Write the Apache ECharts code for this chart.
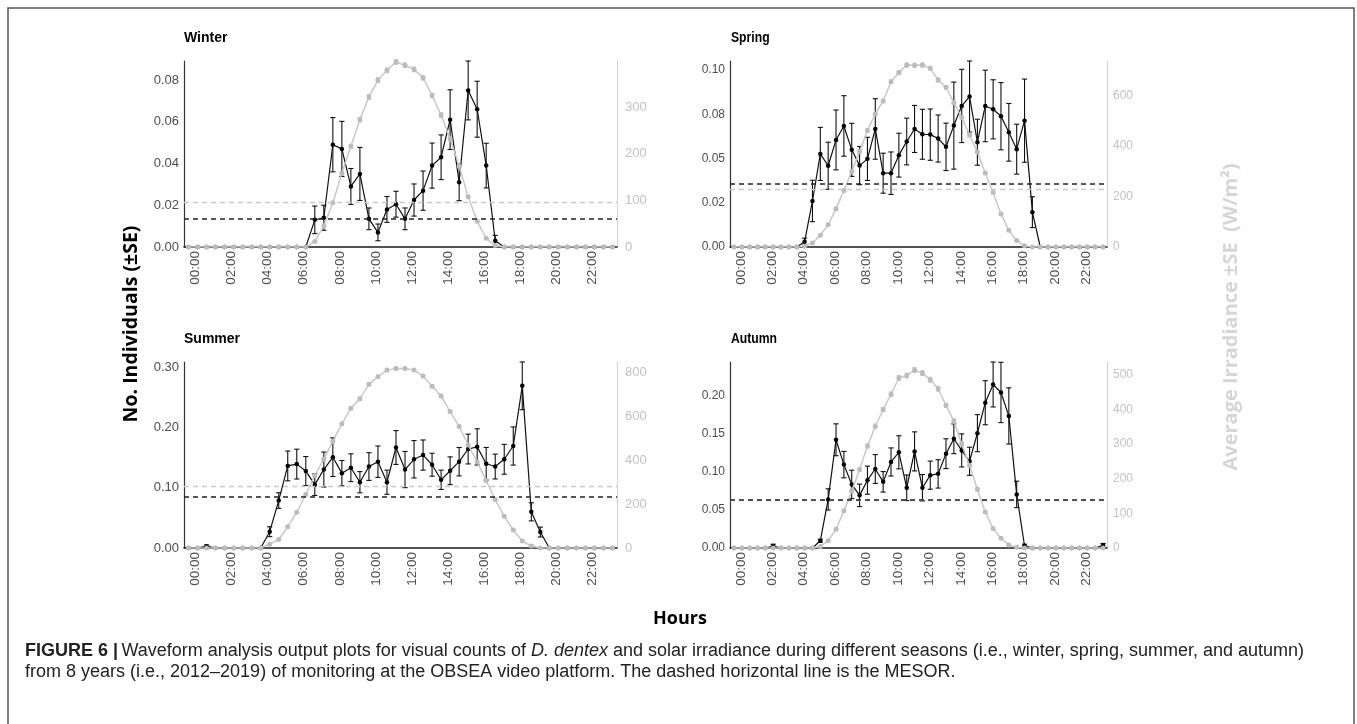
<!DOCTYPE html>
<html><head><meta charset="utf-8">
<script src="https://cdn.jsdelivr.net/npm/echarts@6/dist/echarts.min.js"></script>
<style>html,body{margin:0;padding:0;background:#fff}#c{width:1357px;height:724px}</style>
</head><body><div id="c"></div>
<script>
// ---------- DATA ----------
const timeBins = ["00:00","00:30","01:00","01:30","02:00","02:30","03:00","03:30","04:00","04:30","05:00","05:30",
  "06:00","06:30","07:00","07:30","08:00","08:30","09:00","09:30","10:00","10:30","11:00","11:30",
  "12:00","12:30","13:00","13:30","14:00","14:30","15:00","15:30","16:00","16:30","17:00","17:30",
  "18:00","18:30","19:00","19:30","20:00","20:30","21:00","21:30","22:00","22:30","23:00","23:30"];
const seasons = ["Winter","Spring","Summer","Autumn"];

const winterCount = [0,0,0,0,0,0,0,0,0,0,0,0,0,0,
  0.013,0.014,0.049,0.047,0.029,0.035,0.0135,0.007,0.018,0.0205,0.0135,0.0225,0.027,0.039,0.043,0.061,0.031,0.075,0.066,0.039,0.003,
  0,0,0,0,0,0,0,0,0,0,0,0,0];
const winterCountSE = [0,0,0,0,0,0,0,0,0,0,0,0,0,0,
  0.0066,0.006,0.013,0.0132,0.0086,0.0127,0.0052,0.004,0.0062,0.0062,0.0052,0.0077,0.0094,0.0108,0.0107,0.0143,0.0088,0.0141,0.0134,0.0107,0.0026,
  0,0,0,0,0,0,0,0,0,0,0,0,0];
const winterIrr = [0,0,0,0,0,0,0,0,0,0,0,0,0,0,
  12,45,95,158,216,273,322,358,379,397,390,381,363,325,283,232,174,108,55,19,3,
  0,0,0,0,0,0,0,0,0,0,0,0,0];
const winterIrrSE = [0,0,0,0,0,0,0,0,0,0,0,0,0,0,
  1,2,3,4,4,5,5,5,5,5,5,5,5,5,5,4,4,3,2,1,1,
  0,0,0,0,0,0,0,0,0,0,0,0,0];

const springCount = [0,0,0,0,0,0,0,0,0,
  0.003,0.026,0.0526,0.0459,0.0605,0.0684,0.0549,0.046,0.0498,0.0667,0.0417,0.0417,0.0519,0.0596,0.0667,0.0637,0.0635,0.0613,0.0566,0.0686,0.0797,0.085,0.0592,0.0797,0.0778,0.0739,0.0648,0.0553,0.0714,0.0197,
  0,0,0,0,0,0,0,0,0];
const springCountSE = [0,0,0,0,0,0,0,0,0,
  0.002,0.0117,0.015,0.0133,0.0169,0.0171,0.015,0.0108,0.0122,0.0171,0.0113,0.012,0.0124,0.0132,0.0133,0.0141,0.0145,0.0133,0.0134,0.0246,0.0207,0.0201,0.013,0.0202,0.0167,0.019,0.0163,0.0141,0.0235,0.0087,
  0,0,0,0,0,0,0,0,0];
const springIrr = [0,0,0,0,0,0,0,0,0,
  3,16,47,88,152,224,299,378,462,527,579,655,691,721,720,721,708,662,633,572,514,444,376,293,216,131,66,26,5,
  0,0,0,0,0,0,0,0,0,0];
const springIrrSE = [0,0,0,0,0,0,0,0,0,
  1,2,3,4,5,6,6,7,7,7,7,8,8,8,8,8,8,8,7,7,7,7,6,6,5,4,3,2,1,
  0,0,0,0,0,0,0,0,0,0];

const summerCount = [0,0,0.003,0,0,0,0,0,0,
  0.027,0.0786,0.136,0.139,0.1275,0.105,0.13,0.1505,0.124,0.133,0.109,0.135,0.143,0.109,0.1665,0.13,0.147,0.154,0.138,0.113,0.128,0.143,0.164,0.1676,0.1396,0.135,0.147,0.169,0.2687,0.0599,0.0264,
  0,0,0,0,0,0,0,0];
const summerCountSE = [0,0,0.002,0,0,0,0,0,0,
  0.0082,0.013,0.0247,0.0247,0.024,0.018,0.029,0.032,0.021,0.023,0.0176,0.023,0.026,0.02,0.028,0.03,0.031,0.025,0.019,0.016,0.023,0.0235,0.0247,0.03,0.027,0.0206,0.0247,0.0316,0.0395,0.015,0.0082,
  0,0,0,0,0,0,0,0];
const summerIrr = [0,0,0,0,0,0,0,0,0,
  17,39,97,163,244,331,405,487,566,637,681,746,781,811,818,818,811,784,738,693,622,554,470,392,307,221,145,82,32,9,
  0,0,0,0,0,0,0,0,0];
const summerIrrSE = [0,0,0,0,0,0,0,0,0,
  1,2,3,4,5,5,6,6,7,7,7,7,7,7,7,7,7,7,7,7,7,6,6,6,5,5,4,3,2,1,
  0,0,0,0,0,0,0,0,0];

const autumnCount = [0,0,0,0,0,0.0025,0,0,0,0,0,
  0.0096,0.064,0.1425,0.1098,0.0837,0.0693,0.0893,0.104,0.0871,0.1133,0.126,0.0793,0.1272,0.0793,0.0959,0.0976,0.1242,0.1438,0.1285,0.1142,0.1512,0.1913,0.2153,0.2048,0.1739,0.0706,0.003,
  0,0,0,0,0,0,0,0,0,0.0035];
const autumnCountSE = [0,0,0,0,0,0.0025,0,0,0,0,0,
  0.002,0.014,0.021,0.0174,0.0187,0.0148,0.0185,0.019,0.0135,0.0185,0.0218,0.0168,0.0257,0.0174,0.0185,0.0187,0.0196,0.0196,0.0218,0.0185,0.0244,0.029,0.0296,0.0397,0.037,0.0174,0.002,
  0,0,0,0,0,0,0,0,0,0.0025];
const autumnIrr = [0,0,0,0,0,0,0,0,0,0,0,
  4,21,54,107,164,226,294,351,399,443,490,497,513,504,485,459,411,366,300,238,169,104,56,28,9,2,
  0,0,0,0,0,0,0,0,0,0,0];
const autumnIrrSE = [0,0,0,0,0,0,0,0,0,0,0,
  1,2,3,4,5,5,6,6,6,7,7,7,7,7,7,7,6,6,6,5,5,4,3,2,1,1,
  0,0,0,0,0,0,0,0,0,0,0];

// MESOR (dashed lines)
const mesorCount = [0.0136, 0.0357, 0.0841, 0.0630];
const mesorIrr = [95, 229, 281, 139];

// Axis ranges and tick labels
const countMax = [0.0891, 0.1051, 0.3082, 0.2449];
const countInterval = [0.02, 0.025, 0.1, 0.05];
const countTicks = [["0.00","0.02","0.04","0.06","0.08"], ["0.00","0.02","0.05","0.08","0.10"],
                    ["0.00","0.10","0.20","0.30"], ["0.00","0.05","0.10","0.15","0.20"]];
const irrMax = [399, 737, 848, 536];
const irrInterval = [100, 200, 200, 100];
const irrTicks = [["0","100","200","300"], ["0","200","400","600"],
                  ["0","200","400","600","800"], ["0","100","200","300","400","500"]];

const countSeries = [winterCount, springCount, summerCount, autumnCount];
const countSE = [winterCountSE, springCountSE, summerCountSE, autumnCountSE];
const irrSeries = [winterIrr, springIrr, summerIrr, autumnIrr];
const irrSE = [winterIrrSE, springIrrSE, summerIrrSE, autumnIrrSE];

// ---------- LAYOUT ----------
const grids = [
  {left: 184, top: 61, width: 433, height: 186},
  {left: 730, top: 61, width: 377, height: 186},
  {left: 184, top: 362, width: 433, height: 186},
  {left: 730, top: 362, width: 377, height: 186}
];
const TICK_FONT = 'Liberation Sans';

function tickFormatter(labels, interval) {
  return function (v) {
    const k = Math.round(v / interval);
    if (Math.abs(v / interval - k) > 1e-6) return '';
    return labels[k] !== undefined ? labels[k] : '';
  };
}
function errData(vals, se) {
  const out = [];
  for (let k = 0; k < vals.length; k++) {
    if (se[k] > 0) out.push([k, vals[k] - se[k], vals[k] + se[k]]);
  }
  return out;
}
function errRender(color, cap, lw) {
  return function (params, api) {
    const x = api.value(0);
    const p1 = api.coord([x, api.value(1)]);
    const p2 = api.coord([x, api.value(2)]);
    const st = {stroke: color, lineWidth: lw};
    return {type: 'group', children: [
      {type: 'line', shape: {x1: p1[0], y1: p1[1], x2: p2[0], y2: p2[1]}, style: st},
      {type: 'line', shape: {x1: p1[0] - cap, y1: p1[1], x2: p1[0] + cap, y2: p1[1]}, style: st},
      {type: 'line', shape: {x1: p2[0] - cap, y1: p2[1], x2: p2[0] + cap, y2: p2[1]}, style: st}
    ]};
  };
}

const xAxes = [], yAxes = [], series = [];
for (let i = 0; i < 4; i++) {
  const narrow = (i % 2 === 1);
  xAxes.push({
    type: 'category', gridIndex: i, data: timeBins, boundaryGap: true,
    axisLine: {show: true, onZero: false, lineStyle: {color: '#1a1a1a', width: 1.5}},
    axisTick: {show: false}, splitLine: {show: false},
    axisLabel: {interval: 3, rotate: 90, verticalAlign: 'top', margin: 4, color: '#505050',
      fontSize: 13.5, fontFamily: TICK_FONT}
  });
  yAxes.push({
    type: 'value', gridIndex: i, position: 'left', min: 0, max: countMax[i], interval: countInterval[i],
    axisLine: {show: true, lineStyle: {color: '#333', width: 1.2}},
    axisTick: {show: false}, splitLine: {show: false},
    axisLabel: {margin: 5, color: '#4d4d4d', fontSize: narrow ? 12 : 13, fontFamily: TICK_FONT,
      formatter: tickFormatter(countTicks[i], countInterval[i])}
  });
  yAxes.push({
    type: 'value', gridIndex: i, position: 'right', min: 0, max: irrMax[i], interval: irrInterval[i],
    axisLine: {show: true, lineStyle: {color: '#d0d0d0', width: 1}},
    axisTick: {show: false}, splitLine: {show: false},
    axisLabel: {margin: narrow ? 6 : 8, color: '#c2c2c2', fontSize: narrow ? 12 : 13, fontFamily: TICK_FONT,
      formatter: tickFormatter(irrTicks[i], irrInterval[i])}
  });
  const yl = 2 * i, yr = 2 * i + 1;
  series.push({
    type: 'custom', xAxisIndex: i, yAxisIndex: yl, z: 2, silent: true,
    renderItem: errRender('#111', 2.6, 1.1), encode: {x: 0, y: [1, 2]},
    data: errData(countSeries[i], countSE[i])
  });
  series.push({
    type: 'line', xAxisIndex: i, yAxisIndex: yl, z: 3, silent: true,
    data: countSeries[i], symbol: 'circle', symbolSize: 4.5, showAllSymbol: true,
    lineStyle: {color: '#111', width: 1.2}, itemStyle: {color: '#000'}
  });
  series.push({
    type: 'custom', xAxisIndex: i, yAxisIndex: yr, z: 4, silent: true,
    renderItem: errRender('#bdbdbd', 2, 1), encode: {x: 0, y: [1, 2]},
    data: errData(irrSeries[i], irrSE[i])
  });
  series.push({
    type: 'line', xAxisIndex: i, yAxisIndex: yr, z: 5, silent: true,
    data: irrSeries[i], symbol: 'circle', symbolSize: 5, showAllSymbol: true,
    lineStyle: {color: '#c8c8c8', width: 1.5}, itemStyle: {color: '#bcbcbc'}
  });
  series.push({
    type: 'line', xAxisIndex: i, yAxisIndex: yr, z: 6, silent: true,
    data: irrSeries[i], symbol: 'none', lineStyle: {opacity: 0},
    markLine: {silent: true, symbol: 'none', z: 6, precision: 8, label: {show: false},
      lineStyle: {color: '#c9c9c9', width: 1.4, type: [5, 4]},
      data: [{yAxis: mesorIrr[i]}]}
  });
  series.push({
    type: 'line', xAxisIndex: i, yAxisIndex: yl, z: 7, silent: true,
    data: countSeries[i], symbol: 'none', lineStyle: {opacity: 0},
    markLine: {silent: true, symbol: 'none', z: 7, precision: 8, label: {show: false},
      lineStyle: {color: '#222', width: 1.5, type: [5, 4]},
      data: [{yAxis: mesorCount[i]}]}
  });
}

const titlePos = [[184, 38, 1], [731, 38, 0.87], [184, 339, 1], [731, 339, 0.87]];
const graphics = [
  {type: 'rect', shape: {x: 8, y: 8, width: 1346, height: 740}, style: {fill: 'none', stroke: '#555', lineWidth: 1.5}, silent: true}
];
for (let i = 0; i < 4; i++) {
  graphics.push({type: 'text', x: titlePos[i][0], y: titlePos[i][1], scaleX: titlePos[i][2],
    style: {text: seasons[i], font: 'bold 14px "Liberation Sans"', fill: '#000', verticalAlign: 'middle', align: 'left'}});
}
graphics.push({type: 'text', x: 131, y: 324, rotation: Math.PI / 2,
  style: {text: 'No. Individuals (±SE)', font: 'bold 19.5px "Open Sans"', fill: '#000', align: 'center', verticalAlign: 'middle'}});
graphics.push({type: 'text', x: 1231, y: 317, rotation: Math.PI / 2,
  style: {text: 'Average Irradiance ±SE  (W/m²)', font: 'bold 20px "Open Sans"', fill: '#d6d6d6', align: 'center', verticalAlign: 'middle'}});
graphics.push({type: 'text', x: 680, y: 619,
  style: {text: 'Hours', font: 'bold 18px "Open Sans"', fill: '#000', align: 'center', verticalAlign: 'middle'}});
graphics.push({type: 'text', x: 25, y: 651,
  style: {text: '{b|FIGURE 6 |} {n|Waveform analysis output plots for visual counts of }{i|D. dentex}{n| and solar irradiance during different seasons (i.e., winter, spring, summer, and autumn)}',
    verticalAlign: 'middle', align: 'left',
    rich: {b: {font: 'bold 18px "Liberation Sans"', fill: '#222'}, n: {font: '18px "Liberation Sans"', fill: '#222'}, i: {font: 'italic 18px "Liberation Sans"', fill: '#222'}}}});
graphics.push({type: 'text', x: 25, y: 672,
  style: {text: 'from 8 years (i.e., 2012–2019) of monitoring at the OBSEA video platform. The dashed horizontal line is the MESOR.',
    font: '18px "Liberation Sans"', fill: '#222', verticalAlign: 'middle', align: 'left'}});

const chart = echarts.init(document.getElementById('c'), null, {renderer: 'canvas'});
chart.setOption({
  animation: false,
  backgroundColor: '#fff',
  grid: grids,
  xAxis: xAxes,
  yAxis: yAxes,
  series: series,
  graphic: graphics
});
</script></body></html>
